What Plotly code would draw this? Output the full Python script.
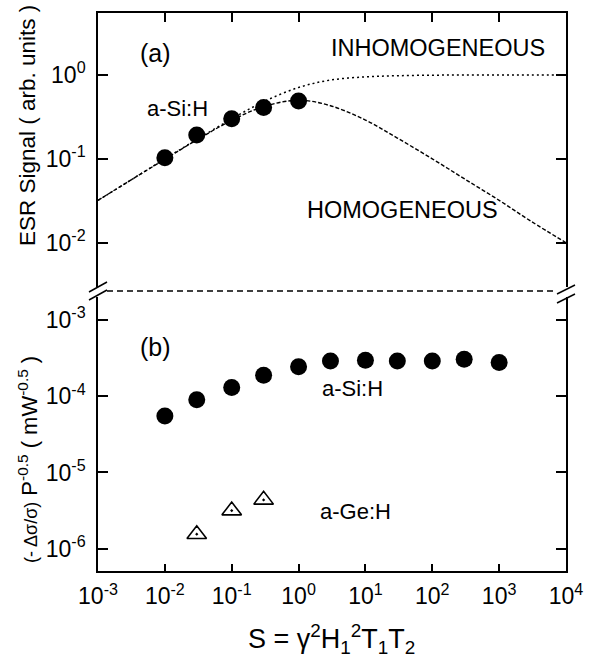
import plotly.graph_objects as go

# ---------------- data ----------------
S_curve = [1e-3, 3e-3, 1e-2, 3e-2, 1e-1, 3e-1, 1, 3, 10, 30, 100, 300, 1e3, 3e3, 1e4]
homogeneous = [0.032, 0.055, 0.099, 0.168, 0.288, 0.42, 0.50, 0.43, 0.29, 0.177, 0.10, 0.058, 0.032, 0.018, 0.010]
inhomogeneous = [0.032, 0.055, 0.10, 0.17, 0.30, 0.48, 0.71, 0.87, 0.95, 0.98, 0.995, 0.998, 1.0, 1.0, 1.0]

S_esr_si = [0.01, 0.03, 0.1, 0.3, 1]
esr_si = [0.103, 0.193, 0.30, 0.41, 0.49]

S_pc_si = [0.01, 0.03, 0.1, 0.3, 1, 3, 10, 30, 100, 300, 1000]
pc_si = [5.5e-5, 9.0e-5, 1.30e-4, 1.89e-4, 2.43e-4, 2.90e-4, 2.96e-4, 2.90e-4, 2.90e-4, 3.06e-4, 2.77e-4]

S_pc_ge = [0.03, 0.1, 0.3]
pc_ge = [1.55e-6, 3.16e-6, 4.37e-6]

x_tickvals = [1e-3, 1e-2, 1e-1, 1, 10, 100, 1e3, 1e4]
x_ticktext = ["10<sup>-3</sup>", "10<sup>-2</sup>", "10<sup>-1</sup>", "10<sup>0</sup>",
              "10<sup>1</sup>", "10<sup>2</sup>", "10<sup>3</sup>", "10<sup>4</sup>"]
ya_tickvals = [1e-2, 1e-1, 1]
ya_ticktext = ["10<sup>-2</sup>", "10<sup>-1</sup>", "10<sup>0</sup>"]
yb_tickvals = [1e-6, 1e-5, 1e-4, 1e-3]
yb_ticktext = ["10<sup>-6</sup>", "10<sup>-5</sup>", "10<sup>-4</sup>", "10<sup>-3</sup>"]

# ---------------- layout geometry ----------------
W, H = 594, 665
L, R, T, B = 98, 28, 13, 94
PW, PH = W - L - R, H - T - B


def px(x):
    return (x - L) / PW


def py(y):
    return (H - B - y) / PH


top_dom = [py(287), 1.0]
bot_dom = [0.0, py(297)]

FONT = "Liberation Sans, Arial, Helvetica, sans-serif"
BLACK = "black"

fig = go.Figure()

# top panel (a)
fig.add_trace(go.Scatter(x=S_curve, y=inhomogeneous, mode="lines", xaxis="x2", yaxis="y2",
                         line=dict(color=BLACK, width=1.5, dash="2px,3px", shape="spline"),
                         showlegend=False))
fig.add_trace(go.Scatter(x=S_curve, y=homogeneous, mode="lines", xaxis="x2", yaxis="y2",
                         line=dict(color=BLACK, width=1.4, dash="4px,2px", shape="spline"),
                         showlegend=False))
fig.add_trace(go.Scatter(x=S_esr_si, y=esr_si, mode="markers", xaxis="x2", yaxis="y2",
                         marker=dict(symbol="circle", size=17, color=BLACK),
                         showlegend=False))

# bottom panel (b)
fig.add_trace(go.Scatter(x=S_pc_si, y=pc_si, mode="markers", xaxis="x", yaxis="y",
                         marker=dict(symbol="circle", size=17, color=BLACK),
                         showlegend=False))
fig.add_trace(go.Scatter(x=S_pc_ge, y=pc_ge, mode="markers", xaxis="x", yaxis="y",
                         marker=dict(symbol="triangle-up-open-dot", size=17, color=BLACK,
                                     line=dict(color=BLACK, width=1.6)),
                         showlegend=False))

axis_common = dict(type="log", showgrid=False, zeroline=False, showline=True,
                   linecolor=BLACK, linewidth=1.6, ticks="inside", tickcolor=BLACK,
                   tickwidth=1.5, tickfont=dict(family=FONT, size=23, color=BLACK))

fig.update_layout(
    width=W, height=H,
    margin=dict(l=L, r=R, t=T, b=B),
    paper_bgcolor="white", plot_bgcolor="white",
    font=dict(family=FONT, color=BLACK),
    xaxis=dict(**axis_common, range=[-3, 4], domain=[0, 1], anchor="y",
               tickvals=x_tickvals, ticktext=x_ticktext, ticklen=7, mirror=False,
               ticklabelstandoff=4),
    yaxis=dict(**axis_common, range=[-6.2925, -2.6983], domain=bot_dom, anchor="x",
               tickvals=yb_tickvals, ticktext=yb_ticktext, ticklen=10, mirror="ticks",
               ticklabelstandoff=6),
    xaxis2=dict(**axis_common, range=[-3, 4], domain=[0, 1], anchor="y2", side="top",
                tickvals=x_tickvals, showticklabels=False, ticklen=9, mirror=False),
    yaxis2=dict(**axis_common, range=[-2.5283, 0.7394], domain=top_dom, anchor="x2",
                tickvals=ya_tickvals, ticktext=ya_ticktext, ticklen=10, mirror="ticks",
                ticklabelstandoff=6),
)

# break line and break marks
shapes = [
    dict(type="line", xref="paper", yref="paper", x0=px(107), x1=px(557), y0=py(291), y1=py(291),
         line=dict(color=BLACK, width=1.5, dash="6px,4px")),
    dict(type="line", xref="paper", yref="paper", x0=px(89), x1=px(107), y0=py(292), y1=py(282),
         line=dict(color=BLACK, width=1.5)),
    dict(type="line", xref="paper", yref="paper", x0=px(89), x1=px(107), y0=py(300), y1=py(290),
         line=dict(color=BLACK, width=1.5)),
    dict(type="line", xref="paper", yref="paper", x0=px(557), x1=px(575), y0=py(294), y1=py(285),
         line=dict(color=BLACK, width=1.5)),
    dict(type="line", xref="paper", yref="paper", x0=px(557), x1=px(575), y0=py(303), y1=py(294),
         line=dict(color=BLACK, width=1.5)),
]
fig.update_layout(shapes=shapes)


def note(text, x, y, size, angle=0):
    fig.add_annotation(text=text, xref="paper", yref="paper", x=px(x), y=py(y),
                       xanchor="center", yanchor="middle", showarrow=False, textangle=angle,
                       font=dict(family=FONT, size=size, color=BLACK))


note("(a)", 155, 53, 25)
note("a-Si:H", 177, 108, 22)
note("INHOMOGENEOUS", 438, 48, 23.5)
note("HOMOGENEOUS", 402, 210, 23.5)
note("(b)", 155, 347, 25)
note("a-Si:H", 352, 388, 22)
note("a-Ge:H", 355, 512, 22)
note("ESR Signal ( arb. units )", 28, 126, 22.5, -90)
note("<span style='font-size:18px'>(- Δσ/σ)</span> P<sup>-0.5</sup> ( mW<sup>-0.5</sup> )", 28, 460, 22, -90)
note("S = γ<sup>2</sup>H<sub>1</sub><sup>2</sup>T<sub>1</sub>T<sub>2</sub>", 331, 639, 27)

fig.write_html("out.html")
